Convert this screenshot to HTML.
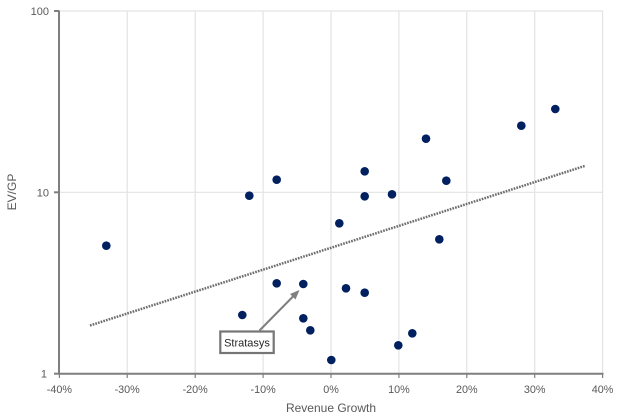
<!DOCTYPE html>
<html><head><meta charset="utf-8"><style>
html,body{margin:0;padding:0;background:#fff;}
svg{display:block;}
text{font-family:"Liberation Sans",sans-serif;fill:#595959;}
</style></head><body>
<svg width="640" height="418" viewBox="0 0 640 418" xmlns="http://www.w3.org/2000/svg">
<rect width="640" height="418" fill="#fff"/>
<!-- vertical gridlines -->
<g stroke="#e3e3e3" stroke-width="1.2">
<line x1="127.2" y1="11" x2="127.2" y2="373.5"/>
<line x1="195.2" y1="11" x2="195.2" y2="373.5"/>
<line x1="263.1" y1="11" x2="263.1" y2="373.5"/>
<line x1="331" y1="11" x2="331" y2="373.5"/>
<line x1="398.9" y1="11" x2="398.9" y2="373.5"/>
<line x1="466.8" y1="11" x2="466.8" y2="373.5"/>
<line x1="534.7" y1="11" x2="534.7" y2="373.5"/>
<line x1="602.6" y1="11" x2="602.6" y2="373.5"/>
<line x1="59" y1="11" x2="603" y2="11"/>
<line x1="59" y1="192.3" x2="603" y2="192.3"/>
</g>
<!-- axes -->
<g stroke="#7f7f7f" stroke-width="2">
<line x1="59" y1="10.5" x2="59" y2="374.5"/>
<line x1="58" y1="373.7" x2="603.5" y2="373.7"/>
<line x1="54" y1="11" x2="59" y2="11"/>
<line x1="54" y1="192.3" x2="59" y2="192.3"/>
<line x1="54" y1="373.7" x2="59" y2="373.7"/>
</g>
<g stroke="#7f7f7f" stroke-width="1.2">
<line x1="59.4" y1="373.7" x2="59.4" y2="378"/>
<line x1="127.2" y1="373.7" x2="127.2" y2="378"/>
<line x1="195.2" y1="373.7" x2="195.2" y2="378"/>
<line x1="263.1" y1="373.7" x2="263.1" y2="378"/>
<line x1="331" y1="373.7" x2="331" y2="378"/>
<line x1="398.9" y1="373.7" x2="398.9" y2="378"/>
<line x1="466.8" y1="373.7" x2="466.8" y2="378"/>
<line x1="534.7" y1="373.7" x2="534.7" y2="378"/>
<line x1="602.6" y1="373.7" x2="602.6" y2="378"/>
</g>
<!-- y labels -->
<g font-size="11" text-anchor="end">
<text x="49" y="15">100</text>
<text x="49" y="196.3">10</text>
<text x="47" y="377.7">1</text>
</g>
<!-- x labels -->
<g font-size="10.8" text-anchor="middle">
<text x="59.4" y="393">-40%</text>
<text x="127.2" y="393">-30%</text>
<text x="195.2" y="393">-20%</text>
<text x="263.1" y="393">-10%</text>
<text x="331" y="393">0%</text>
<text x="398.9" y="393">10%</text>
<text x="466.8" y="393">20%</text>
<text x="534.7" y="393">30%</text>
<text x="602.6" y="393">40%</text>
</g>
<text x="331" y="412" font-size="12" text-anchor="middle">Revenue Growth</text>
<text x="0" y="0" font-size="12" text-anchor="middle" transform="translate(16,192) rotate(-90)">EV/GP</text>
<!-- trendline -->
<line x1="90" y1="325.5" x2="585.5" y2="165.7" stroke="#6e6e6e" stroke-width="2.5" stroke-dasharray="1.7 1.1"/>
<!-- points -->
<g fill="#002060">
<circle cx="106.3" cy="245.7" r="4.3"/>
<circle cx="242.3" cy="315" r="4.3"/>
<circle cx="249.3" cy="195.7" r="4.3"/>
<circle cx="276.7" cy="179.7" r="4.3"/>
<circle cx="276.7" cy="283.3" r="4.3"/>
<circle cx="303.3" cy="284" r="4.3"/>
<circle cx="303.3" cy="318.3" r="4.3"/>
<circle cx="310.3" cy="330.3" r="4.3"/>
<circle cx="331.3" cy="360" r="4.3"/>
<circle cx="339.3" cy="223.3" r="4.3"/>
<circle cx="346" cy="288.3" r="4.3"/>
<circle cx="364.7" cy="171.3" r="4.3"/>
<circle cx="364.7" cy="196.3" r="4.3"/>
<circle cx="364.7" cy="292.7" r="4.3"/>
<circle cx="392" cy="194.3" r="4.3"/>
<circle cx="398.3" cy="345.3" r="4.3"/>
<circle cx="412.3" cy="333.3" r="4.3"/>
<circle cx="426" cy="138.7" r="4.3"/>
<circle cx="439.3" cy="239.3" r="4.3"/>
<circle cx="446.3" cy="180.7" r="4.3"/>
<circle cx="521.3" cy="125.7" r="4.3"/>
<circle cx="555.3" cy="109" r="4.3"/>
</g>
<!-- annotation -->
<line x1="259.5" y1="330.5" x2="294" y2="295.5" stroke="#7f7f7f" stroke-width="2"/>
<polygon points="299.5,290 290,294 295.5,299.5" fill="#7f7f7f"/>
<rect x="220.3" y="331.5" width="53.4" height="21.5" fill="#fff" stroke="#757575" stroke-width="2.2"/>
<text x="247" y="346.5" font-size="11" text-anchor="middle" style="fill:#262626">Stratasys</text>
</svg>
</body></html>
